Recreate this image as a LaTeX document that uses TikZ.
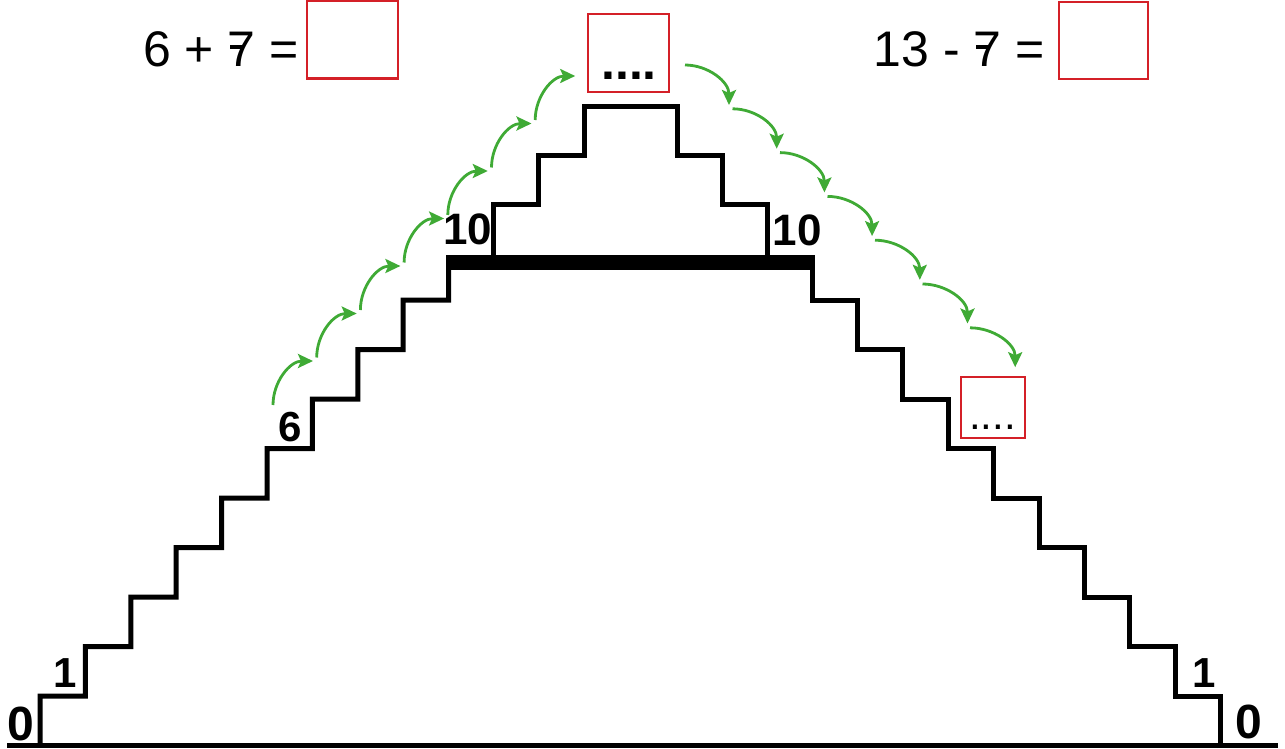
\documentclass[tikz,border=0pt]{standalone}
\usepackage{fontspec}
\setmainfont{Liberation Sans}
\usetikzlibrary{arrows.meta, positioning}
\definecolor{boxred}{HTML}{D42028}
\definecolor{hopgreen}{HTML}{3FAA35}
% sette barrato
\newcommand{\sette}{\makebox[0pt][l]{\hspace{0.05em}\rule[0.36em]{0.28em}{0.08em}}7}
\tikzset{
  % gradini della scala
  stair/.style={line width=5pt, black},
  % casella da riempire
  answer/.style={draw=boxred, line width=2.5pt, inner sep=0pt},
  % operazione in alto
  eq/.style={font=\fontsize{50}{60}\selectfont, inner sep=0pt},
  % numero sul gradino
  num/.style={font=\bfseries\fontsize{42}{50}\selectfont, inner sep=0pt},
  % puntini nelle caselle
  bigdots/.style={font=\bfseries\fontsize{50}{60}\selectfont, inner sep=0pt, anchor=base},
  smalldots/.style={font=\fontsize{42}{50}\selectfont, inner sep=0pt, anchor=base},
  % salto da un gradino all'altro
  hop/.style={-{Stealth[length=15pt, width=14pt, inset=3pt]}, line width=2.8pt, hopgreen},
}
\begin{document}
\begin{tikzpicture}[x=1pt, y=1pt]
  \useasboundingbox (0,0) rectangle (1285,-749);
  % scala
  \draw[stair] (7,-745.5) -- (1278,-745.5);
  \draw[stair] (40,-745.5) foreach \k in {1,...,9} { -- ++(0,49.5) -- ++(45.4,0) } -- (448.6,-262);
  \draw[stair] (812,-262) -- (812,-300) foreach \k in {1,...,9} { -- ++(45.4,0) -- ++(0,-49.5) };
  \fill (446,-255) rectangle (815,-270);
  \draw[stair] (493,-257) |- (538,-204) |- (584,-156) |- (677,-107) |- (722,-156) |- (767,-204) -- (767,-257);
  % numeri
  \node[num, font=\bfseries\fontsize{48}{56}\selectfont] (n0sx) at (21,-724) {0};
  \node[num] (n1sx) at (65,-673) {1};
  \node[num] (n6) at (290,-427) {6};
  \node[num, font=\bfseries\fontsize{44}{52}\selectfont] (n10sx) at (468,-229) {10};
  \node[num, font=\bfseries\fontsize{44}{52}\selectfont] (n10dx) at (797,-230) {10};
  \node[num] (n1dx) at (1204,-673) {1};
  \node[num, font=\bfseries\fontsize{48}{56}\selectfont] (n0dx) at (1249,-722) {0};
  % operazioni e caselle
  \node[eq, anchor=base east] (eqsx) at (299,-67) {6 + \sette{} =};
  \node[answer, minimum width=91pt, minimum height=78pt] (boxsx) at (352.5,-39.5) {};
  \node[eq, anchor=base east] (eqdx) at (1045,-67) {13 - \sette{} =};
  \node[answer, minimum width=89pt, minimum height=77pt] (boxdx) at (1103.5,-40.5) {};
  \node[answer, minimum width=81pt, minimum height=78pt] (boxtop) at (628.5,-53) {};
  \node[bigdots] (dtop) at (629,-80) {....};
  \node[answer, minimum width=64pt, minimum height=61pt] (boxstep) at (993,-407.5) {};
  \node[smalldots] (dstep) at (992.5,-429) {....};
  % salti
  \foreach \k in {0,...,6} {
    \coordinate (su\k) at (273+43.7*\k, -405+47.5*\k);
    \coordinate (au\k) at (313+43.7*\k, -361+47.5*\k);
    \draw[hop] (su\k) to[out=90, in=180] (au\k);
  }
  \foreach \k in {0,...,6} {
    \coordinate (sd\k) at (685+47.5*\k, -65-43.8*\k);
    \coordinate (ad\k) at (729+47.7*\k, -105-43.7*\k);
    \draw[hop] (sd\k) to[out=0, in=90] (ad\k);
  }
\end{tikzpicture}
\end{document}
